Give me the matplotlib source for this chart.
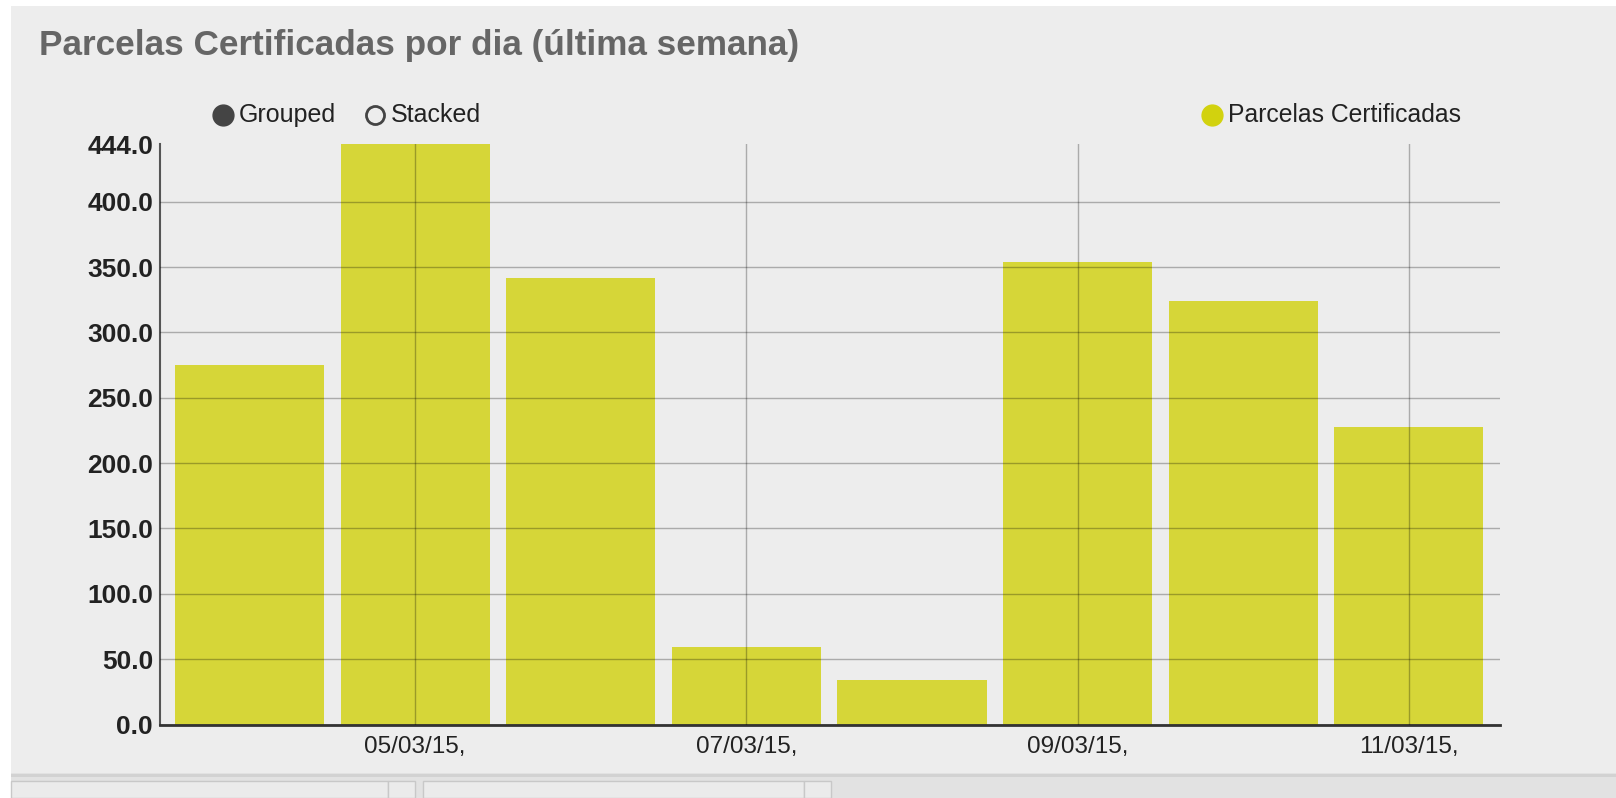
import matplotlib
matplotlib.use('Agg')
import matplotlib.pyplot as plt
from matplotlib.lines import Line2D
from matplotlib.patches import Rectangle

# ── Données ──
dates   = ["04/03/15", "05/03/15", "06/03/15", "07/03/15",
           "08/03/15", "09/03/15", "10/03/15", "11/03/15"]
valeurs = [275, 444, 342, 59, 34, 354, 324, 228]
y_ticks = [0, 50, 100, 150, 200, 250, 300, 350, 400, 444]
serie   = "Parcelas Certificadas"
titre   = "Parcelas Certificadas por dia (última semana)"

W, H = 1616, 798
plt.rcParams['font.family'] = ['Liberation Sans', 'DejaVu Sans']

fig = plt.figure(figsize=(W / 100, H / 100), dpi=100, facecolor="white")

def fx(px):
    return px / W

def fy(py):
    return 1 - py / H

# fond gris du panneau
fig.patches.append(Rectangle((fx(11), fy(773)), fx(W - 11), (773 - 6) / H,
                             transform=fig.transFigure, facecolor="#ededed",
                             edgecolor="none", zorder=-3))
# bande du bas avec onglets
fig.patches.append(Rectangle((fx(11), fy(798)), fx(W - 11), 25 / H,
                             transform=fig.transFigure, facecolor="#e2e2e2",
                             edgecolor="none", zorder=-3))
fig.patches.append(Rectangle((fx(11), fy(777)), fx(W - 11), 3 / H,
                             transform=fig.transFigure, facecolor="#d2d2d2",
                             edgecolor="none", zorder=-2))
for x0, x1 in [(11, 388), (388, 415), (423, 804), (804, 831)]:
    fig.patches.append(Rectangle((fx(x0), fy(798)), fx(x1 - x0), 17 / H,
                                 transform=fig.transFigure, facecolor="#ebebeb",
                                 edgecolor="#c8c8c8", linewidth=1, zorder=-1))

ax = fig.add_axes([fx(160), fy(724.5), fx(1500 - 160), (724.5 - 144.3) / H])
ax.set_facecolor("none")
ax.set_zorder(5)

x = list(range(len(valeurs)))
ax.bar(x, valeurs, width=0.9, color="#d2d218", alpha=0.85, zorder=2)

ax.set_xlim(-0.54, 7.55)
ax.set_ylim(0, 444)
ax.set_yticks(y_ticks)
ax.set_yticklabels([f"{v:.1f}" for v in y_ticks], fontsize=19,
                   fontweight="bold", color="#222222")
pos = [i for i in x if i % 2 == 1]
ax.set_xticks(pos)
ax.set_xticklabels([dates[i] + "," for i in pos], fontsize=17.5, color="#222222")
ax.tick_params(axis="both", length=0)
ax.tick_params(axis="y", pad=5)
ax.tick_params(axis="x", pad=8)

ax.grid(True, color="black", alpha=0.28, linewidth=1, zorder=3)
ax.set_axisbelow(False)
ax.yaxis.get_gridlines()[-1].set_visible(False)   # pas de ligne à 444

for s in ["top", "right"]:
    ax.spines[s].set_visible(False)
ax.spines["left"].set_color("#555555")
ax.spines["left"].set_linewidth(1.5)
ax.spines["bottom"].set_color("#333333")
ax.spines["bottom"].set_linewidth(2)

# titre
fig.text(fx(39), fy(46), titre, fontsize=25.3, fontweight="bold",
         color="#666666", ha="left", va="center")

# légendes
ly = fy(115)
fig.add_artist(Line2D([fx(223)], [ly], marker="o", markersize=15,
                      color="#444444", transform=fig.transFigure))
fig.text(fx(239), ly, "Grouped", fontsize=18, color="#222222", va="center")
fig.add_artist(Line2D([fx(375)], [ly], marker="o", markersize=13,
                      markerfacecolor="none", markeredgecolor="#444444",
                      markeredgewidth=2, transform=fig.transFigure))
fig.text(fx(391), ly, "Stacked", fontsize=18, color="#222222", va="center")
fig.add_artist(Line2D([fx(1212)], [ly], marker="o", markersize=15,
                      color="#d2d20e", transform=fig.transFigure))
fig.text(fx(1228), ly, serie, fontsize=17.8, color="#222222", va="center")

plt.savefig("out.png", dpi=100, facecolor=fig.get_facecolor())
plt.close()
